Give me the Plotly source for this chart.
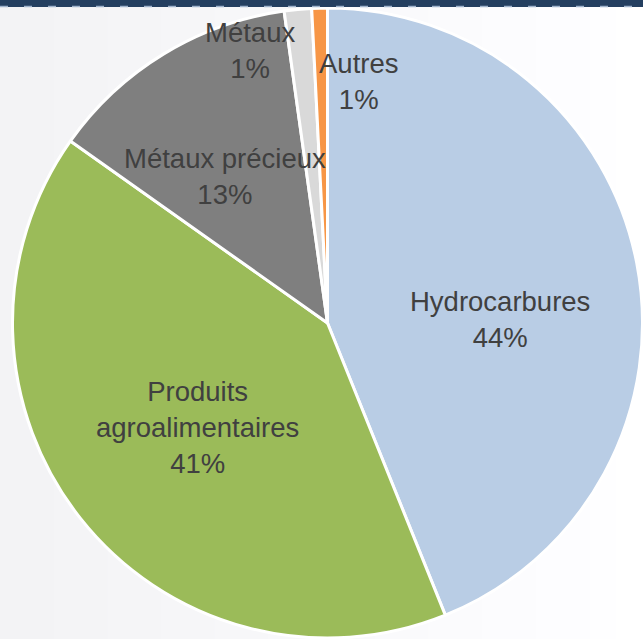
import plotly.graph_objects as go

# Data
categories = ["Hydrocarbures", "Produits agroalimentaires", "Métaux précieux", "Métaux", "Autres"]
label_text = ["Hydrocarbures", "Produits<br>agroalimentaires", "Métaux précieux", "Métaux", "Autres"]
shares = [43.9, 40.9, 13.0, 1.4, 0.8]
colors = ["#B9CDE5", "#9BBB59", "#7F7F7F", "#D9D9D9", "#F79646"]

W, H = 643, 639

# label centres in pixels (style)
label_pos = [(500, 319), (197, 427), (225, 176), (250, 50), (358, 81)]

fig = go.Figure()

# background gradient strips
n = 24
shapes = []
for i in range(n):
    t = i / (n - 1)
    v = int(243 + (255 - 243) * t)
    shapes.append(dict(type="rect", xref="paper", yref="paper",
                       x0=i / n, x1=(i + 1) / n + 0.002, y0=0, y1=1,
                       fillcolor=f"rgb({v},{v},{min(255, v + 2)})", line=dict(width=0), layer="below"))

fig.add_trace(go.Pie(
    labels=categories,
    values=shares,
    sort=False,
    direction="clockwise",
    rotation=0,
    marker=dict(colors=colors, line=dict(color="white", width=3)),
    textinfo="none",
    hoverinfo="label+percent",
    showlegend=False,
    domain=dict(x=[12 / W, 1.0], y=[1 / H, 1 - 8 / H]),
))

total = sum(shares)
annotations = []
for lab, val, (px, py) in zip(label_text, shares, label_pos):
    annotations.append(dict(
        text=f"{lab}<br>{round(val / total * 100):.0f}%",
        x=px / W, y=1 - py / H, xref="paper", yref="paper",
        xanchor="center", yanchor="middle", showarrow=False,
        font=dict(family="Liberation Sans, Arial", size=27.5, color="#404040"),
        align="center",
    ))

# top navy bar with dashed line
shapes.append(dict(type="rect", xref="paper", yref="paper", x0=0, x1=1,
                   y0=1 - 7 / H, y1=1, fillcolor="#243F60", line=dict(width=0), layer="above"))
shapes.append(dict(type="line", xref="paper", yref="paper", x0=0, x1=1,
                   y0=1 - 6.5 / H, y1=1 - 6.5 / H,
                   line=dict(color="#9FB3CC", width=1.5, dash="8px,16px"), layer="above"))

fig.update_layout(
    width=W, height=H,
    margin=dict(l=0, r=0, t=0, b=0),
    paper_bgcolor="#f7f7f7",
    plot_bgcolor="#f7f7f7",
    shapes=shapes,
    annotations=annotations,
)

fig.write_html("out.html", config={"displayModeBar": False})

# remove default page margin so the figure fills the window
with open("out.html", "r", encoding="utf-8") as f:
    html = f.read()
html = html.replace("<head>", "<head><style>html,body{margin:0;padding:0;overflow:hidden;}</style>", 1)
with open("out.html", "w", encoding="utf-8") as f:
    f.write(html)
